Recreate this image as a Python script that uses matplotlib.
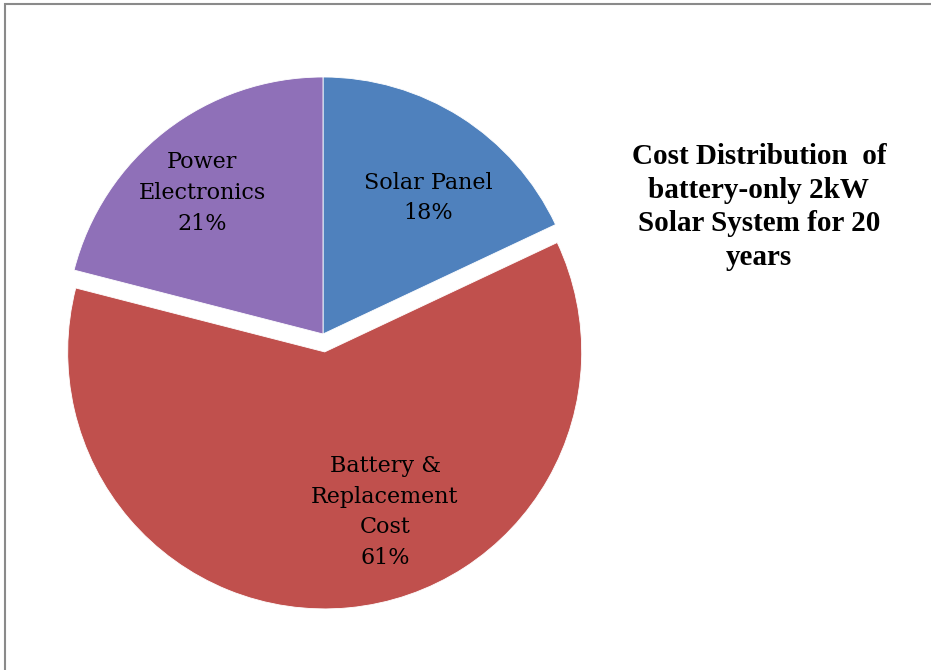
import matplotlib
matplotlib.use("Agg")
import matplotlib.pyplot as plt
from matplotlib.patches import Rectangle

# ── Data ─────────────────────────────────────────────────────────────────────
categories = ["Solar Panel", "Battery &\nReplacement\nCost", "Power\nElectronics"]
shares     = [18, 61, 21]
colors     = ["#4F81BD", "#C0504D", "#8F70B8"]
explode    = [0, 0.07, 0]          # fraction of the radius
title_text = "Cost Distribution  of\nbattery-only 2kW\nSolar System for 20\nyears"

W, H = 931, 670
fig = plt.figure(figsize=(W / 100, H / 100), dpi=100)
ax = fig.add_axes([0, 0, 1, 1])

# pie drawn in pixel-like data units (y measured from bottom)
cx, cy, r = 323, H - 334, 257
ax.pie(shares, colors=colors, explode=[e * r for e in explode], startangle=90,
       counterclock=False, center=(cx, cy), radius=r,
       wedgeprops=dict(edgecolor="white", linewidth=0.6))
ax.set_xlim(0, W)
ax.set_ylim(0, H)
ax.set_aspect("equal")
ax.axis("off")

# slice labels
label_font = dict(family="DejaVu Serif", fontsize=16, color="black",
                  ha="center", va="center", linespacing=1.52)
label_pos = [(428, 198), (385, 512), (202, 193)]
for name, pct, (x, y) in zip(categories, shares, label_pos):
    ax.text(x, H - y, f"{name}\n{pct}%", **label_font)

ax.text(759, H - 207, title_text, family="Liberation Serif", fontweight="bold",
        fontsize=21, ha="center", va="center", linespacing=1.33)

# outer frame
fig.patches.append(Rectangle((5 / W, -0.1), 1.2, 1.1 - 4 / H, transform=fig.transFigure,
                             fill=False, edgecolor="#8a8a8a", linewidth=1.5))

fig.savefig("out.png", dpi=100)
